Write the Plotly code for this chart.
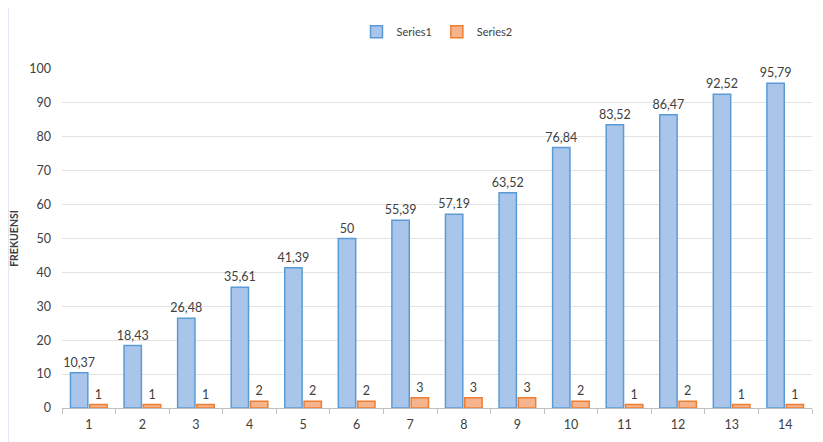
import plotly.graph_objects as go

categories = [str(i) for i in range(1, 15)]
series1 = [10.37, 18.43, 26.48, 35.61, 41.39, 50, 55.39, 57.19, 63.52, 76.84, 83.52, 86.47, 92.52, 95.79]
series2 = [1, 1, 1, 2, 2, 2, 3, 3, 3, 2, 1, 2, 1, 1]
y_ticks = list(range(0, 101, 10))

def fmt(v):
    s = ("%.2f" % v).rstrip("0").rstrip(".")
    return s.replace(".", ",")

FONT = "Lato, Open Sans, Arial"

fig = go.Figure()
fig.add_trace(go.Bar(
    x=categories, y=series1, name="Series1",
    marker=dict(color="#a9c6ea", line=dict(color="#5b9bd5", width=1.5)),
    text=[fmt(v) for v in series1], textposition="outside", constraintext="none",
    textfont=dict(size=12.5, color="#404040", family=FONT), cliponaxis=False,
))
fig.add_trace(go.Bar(
    x=categories, y=series2, name="Series2",
    marker=dict(color="#f6b48c", line=dict(color="#ed7d31", width=1.5)),
    text=[fmt(v) for v in series2], textposition="outside", constraintext="none",
    textfont=dict(size=12.5, color="#404040", family=FONT), cliponaxis=False,
))

fig.update_layout(
    width=815, height=434,
    margin=dict(l=54, r=11, t=61, b=34, autoexpand=False),
    paper_bgcolor="white", plot_bgcolor="white",
    barmode="group", bargap=0.28, bargroupgap=0.1,
    uniformtext=dict(minsize=12, mode="show"),
    font=dict(family=FONT, size=12, color="#404040"),
    legend=dict(orientation="h", x=0.5, xanchor="center", y=1.11, yanchor="middle",
                font=dict(size=11, color="#404040", family=FONT),
                itemwidth=30, tracegroupgap=0),
    xaxis=dict(type="category", showline=True, linecolor="#bfbfbf", linewidth=1,
               ticks="outside", tickson="boundaries", ticklen=5, tickcolor="#bfbfbf",
               ticklabelstandoff=5,
               tickfont=dict(size=12.5, color="#404040"), showgrid=False),
    yaxis=dict(range=[0, 100], tickvals=y_ticks, showgrid=True, gridcolor="#e3e3e3",
               zeroline=False, showline=False, ticks="", ticklabelstandoff=10,
               tickfont=dict(size=12.5, color="#404040"),
               title=dict(text="<b>FREKUENSI</b>", font=dict(size=10.5, color="#404040"), standoff=12)),
    shapes=[dict(type="line", xref="paper", yref="paper", x0=-0.072, x1=-0.072, y0=-0.2, y1=1.25,
                 line=dict(color="#d5e1f0", width=1.5))],
)

fig.write_html("out.html")
